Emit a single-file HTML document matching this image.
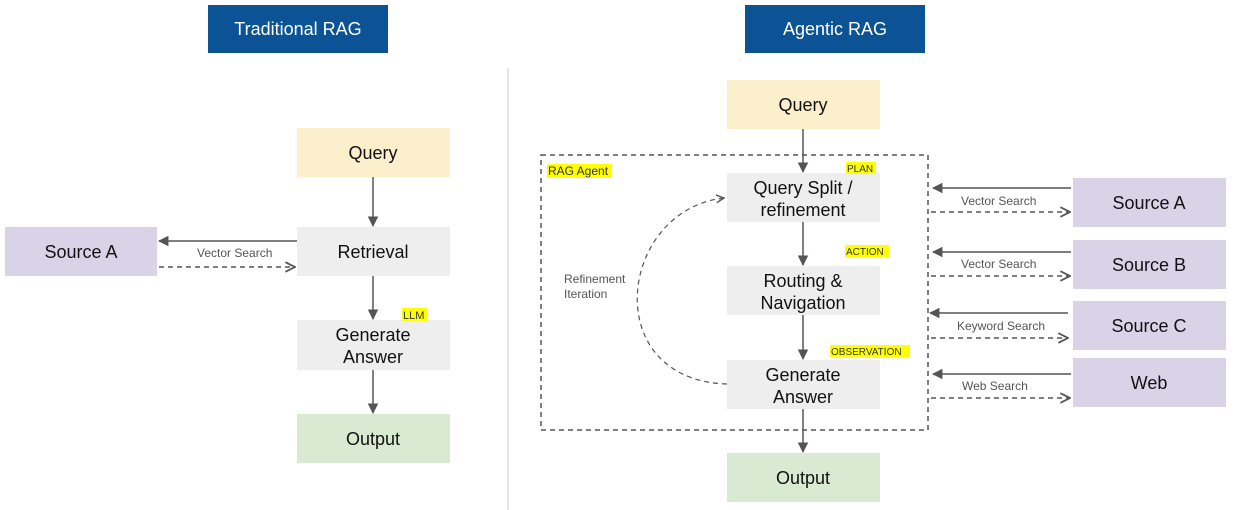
<!DOCTYPE html>
<html><head><meta charset="utf-8"><style>
body{margin:0;background:#fff;}
svg{display:block;font-family:"Liberation Sans",sans-serif;}
</style></head><body>
<svg width="1233" height="510" viewBox="0 0 1233 510" xmlns="http://www.w3.org/2000/svg">
<defs>
<marker id="a" viewBox="0 0 10 10" refX="9" refY="5" markerWidth="7" markerHeight="7" orient="auto-start-reverse"><path d="M0,0 L10,5 L0,10 z" fill="#555"/></marker>
<marker id="o" viewBox="0 0 10 10" refX="9" refY="5" markerWidth="8" markerHeight="8" orient="auto"><path d="M1,1 L9,5 L1,9" fill="none" stroke="#555" stroke-width="1.5"/></marker>
</defs>
<rect width="1233" height="510" fill="#fff"/>
<rect x="208" y="5" width="180" height="48" fill="#0b5394"/>
<text x="298" y="35" font-size="18" fill="#fff" text-anchor="middle">Traditional RAG</text>
<rect x="745" y="5" width="180" height="48" fill="#0b5394"/>
<text x="835" y="35" font-size="18" fill="#fff" text-anchor="middle">Agentic RAG</text>
<line x1="508" y1="68" x2="508" y2="510" stroke="#ccc" stroke-width="1"/>

<g font-size="18" fill="#111" text-anchor="middle">
<rect x="297" y="128" width="153" height="49" fill="#fcf0cc"/><text x="373" y="159">Query</text>
<rect x="297" y="227" width="153" height="49" fill="#eeeeee"/><text x="373" y="258">Retrieval</text>
<rect x="5" y="227" width="152" height="49" fill="#d9d3e8"/><text x="81" y="258">Source A</text>
<rect x="297" y="320" width="153" height="50" fill="#eeeeee"/><text x="373" y="341">Generate</text><text x="373" y="363">Answer</text>
<rect x="297" y="414" width="153" height="49" fill="#d9ead3"/><text x="373" y="445">Output</text>
<rect x="727" y="80" width="153" height="49" fill="#fcf0cc"/><text x="803" y="111">Query</text>
<rect x="727" y="173" width="153" height="49" fill="#eeeeee"/><text x="803" y="194">Query Split /</text><text x="803" y="216">refinement</text>
<rect x="727" y="266" width="153" height="49" fill="#eeeeee"/><text x="803" y="287">Routing &amp;</text><text x="803" y="309">Navigation</text>
<rect x="727" y="360" width="153" height="49" fill="#eeeeee"/><text x="803" y="381">Generate</text><text x="803" y="403">Answer</text>
<rect x="727" y="453" width="153" height="49" fill="#d9ead3"/><text x="803" y="484">Output</text>
<rect x="1073" y="178" width="153" height="49" fill="#d9d3e8"/><text x="1149" y="209">Source A</text>
<rect x="1073" y="240" width="153" height="49" fill="#d9d3e8"/><text x="1149" y="271">Source B</text>
<rect x="1073" y="301" width="153" height="49" fill="#d9d3e8"/><text x="1149" y="332">Source C</text>
<rect x="1073" y="358" width="153" height="49" fill="#d9d3e8"/><text x="1149" y="389">Web</text>
</g>

<g stroke="#555" stroke-width="1.5" fill="none">
<line x1="373" y1="177" x2="373" y2="226" marker-end="url(#a)"/>
<line x1="373" y1="276" x2="373" y2="319" marker-end="url(#a)"/>
<line x1="373" y1="370" x2="373" y2="413" marker-end="url(#a)"/>
<line x1="297" y1="241" x2="159" y2="241" marker-end="url(#a)"/>
<line x1="159" y1="267" x2="295" y2="267" stroke-dasharray="5,4" marker-end="url(#o)"/>
<line x1="803" y1="129" x2="803" y2="172" marker-end="url(#a)"/>
<line x1="803" y1="222" x2="803" y2="265" marker-end="url(#a)"/>
<line x1="803" y1="315" x2="803" y2="359" marker-end="url(#a)"/>
<line x1="803" y1="409" x2="803" y2="452" marker-end="url(#a)"/>
<rect x="541" y="155" width="387" height="275" stroke-dasharray="5,4"/>
<path d="M727,384 C598,380 618,210 724,198" stroke-dasharray="5,4" stroke-width="1.2" marker-end="url(#o)"/>
<line x1="1071" y1="188" x2="933" y2="188" marker-end="url(#a)"/>
<line x1="931" y1="212" x2="1070" y2="212" stroke-dasharray="5,4" marker-end="url(#o)"/>
<line x1="1071" y1="252" x2="933" y2="252" marker-end="url(#a)"/>
<line x1="931" y1="276" x2="1070" y2="276" stroke-dasharray="5,4" marker-end="url(#o)"/>
<line x1="1068" y1="313" x2="930" y2="313" marker-end="url(#a)"/>
<line x1="931" y1="338" x2="1068" y2="338" stroke-dasharray="5,4" marker-end="url(#o)"/>
<line x1="1071" y1="374" x2="933" y2="374" marker-end="url(#a)"/>
<line x1="931" y1="398" x2="1070" y2="398" stroke-dasharray="5,4" marker-end="url(#o)"/>
</g>

<g font-size="12" fill="#555">
<text x="197" y="257">Vector Search</text>
<text x="961" y="205">Vector Search</text>
<text x="961" y="268">Vector Search</text>
<text x="957" y="330">Keyword Search</text>
<text x="962" y="390">Web Search</text>
<text x="564" y="283">Refinement</text>
<text x="564" y="298">Iteration</text>
</g>
<g font-size="11" fill="#333">
<rect x="402" y="308" width="25" height="13" fill="#ffff00"/><text x="403" y="319">LLM</text>
<rect x="547" y="164" width="65" height="14" fill="#ffff00"/><text x="548" y="175" font-size="12">RAG Agent</text>
<rect x="846" y="162" width="30" height="12" fill="#ffff00"/><text x="847" y="172" font-size="10">PLAN</text>
<rect x="845" y="245" width="44" height="12" fill="#ffff00"/><text x="846" y="255" font-size="10">ACTION</text>
<rect x="830" y="345" width="80" height="12" fill="#ffff00"/><text x="831" y="355" font-size="10">OBSERVATION</text>
</g>
</svg>
</body></html>
